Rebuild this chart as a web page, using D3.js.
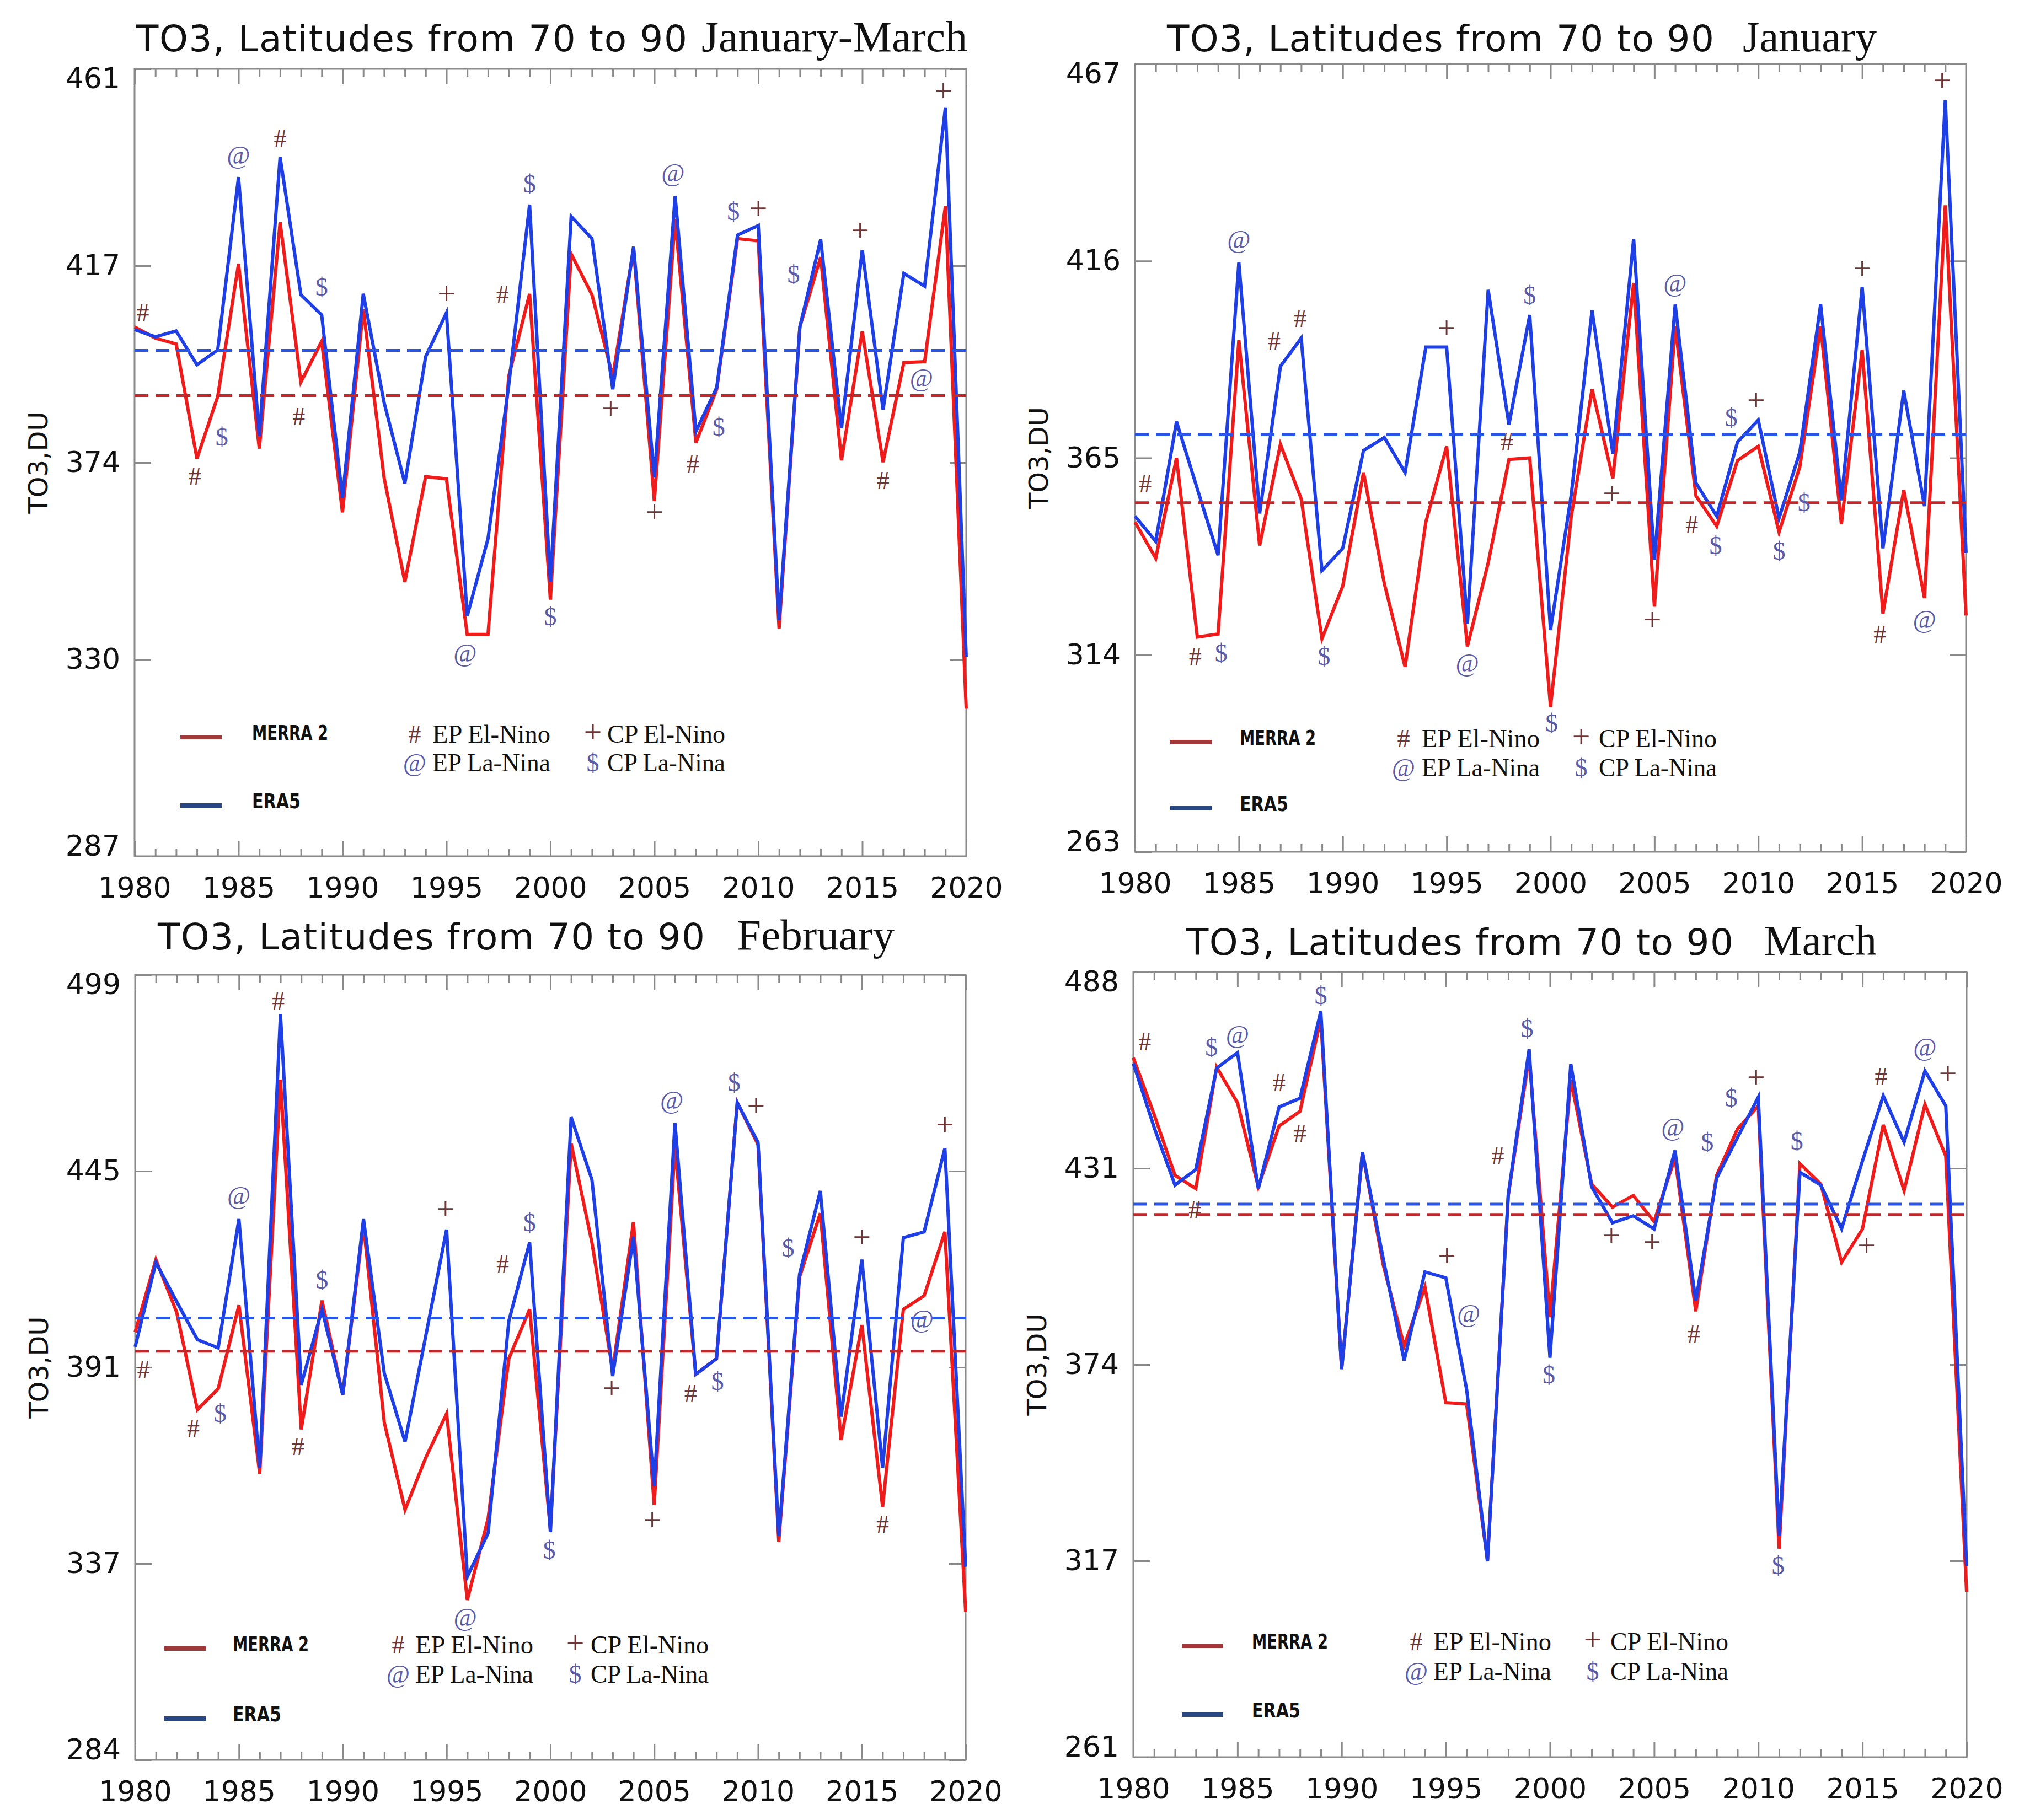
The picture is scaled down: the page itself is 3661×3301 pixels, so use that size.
<!DOCTYPE html>
<html>
<head>
<meta charset="utf-8">
<script src="https://cdn.jsdelivr.net/npm/d3@7"></script>
<style>
  body { margin: 0; background: #fff; }
  svg { display: block; }
</style>
</head>
<body>
<svg id="fig"></svg>
<script>
// ── data (DU, 1980–2020) ─────────────────────────────
const YEARS = d3.range(1980, 2021);

const MERRA_JFM = [404.0, 401.5, 400.2, 374.9, 388.6, 417.9, 377.1, 427.1, 391.8, 400.8, 363.0, 407.9, 370.7, 347.6, 370.9, 370.4, 336.0, 336.0, 393.1, 411.3, 343.7, 420.1, 411.1, 393.0, 421.3, 365.5, 427.7, 378.4, 390.2, 423.5, 423.0, 337.3, 404.0, 419.4, 374.5, 403.0, 374.1, 396.1, 396.3, 430.7, 319.6];
const ERA5_JFM  = [403.4, 401.8, 403.1, 395.6, 398.9, 437.1, 379.9, 441.5, 411.1, 406.6, 366.2, 411.3, 387.3, 369.4, 397.4, 407.1, 340.1, 357.2, 391.2, 431.0, 347.6, 428.4, 423.5, 390.2, 421.7, 370.7, 432.9, 380.9, 390.6, 424.3, 426.4, 339.2, 404.0, 423.3, 381.6, 421.0, 385.7, 415.8, 413.0, 452.5, 331.1];

const MERRA_JAN = [348.4, 339.0, 365.0, 318.6, 319.4, 395.5, 342.3, 368.5, 354.4, 318.2, 331.8, 361.2, 332.5, 310.9, 348.4, 368.0, 316.2, 337.8, 364.6, 365.0, 300.5, 349.9, 382.8, 359.7, 410.3, 326.5, 399.0, 355.2, 347.3, 364.3, 368.0, 345.8, 362.7, 399.0, 347.9, 393.0, 324.7, 356.7, 328.7, 430.4, 324.2];
const ERA5_JAN  = [349.9, 343.4, 374.4, 357.0, 339.8, 415.6, 350.6, 388.7, 396.0, 335.8, 341.6, 366.9, 370.3, 361.2, 393.7, 393.7, 322.0, 408.5, 373.6, 402.0, 320.4, 355.5, 403.2, 366.1, 421.7, 338.6, 404.7, 358.5, 349.9, 369.1, 374.8, 349.4, 366.5, 404.7, 354.0, 409.3, 341.6, 382.4, 352.5, 457.6, 340.4];

const MERRA_FEB = [401.1, 421.0, 406.6, 379.9, 385.6, 408.5, 362.4, 470.3, 374.5, 409.8, 384.0, 430.5, 376.4, 352.5, 366.8, 378.8, 327.8, 350.1, 393.9, 407.4, 347.1, 452.8, 425.7, 390.7, 431.3, 353.8, 452.0, 389.6, 393.9, 464.0, 452.5, 343.7, 416.2, 433.7, 371.6, 403.1, 353.3, 407.4, 411.1, 428.6, 324.6];
const ERA5_FEB  = [397.1, 420.2, 409.5, 399.1, 396.8, 432.1, 364.0, 488.2, 386.7, 407.4, 384.0, 432.1, 389.9, 371.1, 400.2, 429.2, 334.2, 346.1, 404.2, 425.7, 346.4, 460.0, 442.9, 389.1, 427.3, 358.9, 458.4, 389.6, 393.9, 464.0, 453.1, 345.3, 417.0, 439.8, 378.0, 421.0, 364.0, 427.0, 428.6, 451.5, 336.9];

const MERRA_MAR = [463.2, 446.8, 429.2, 425.4, 460.5, 450.2, 425.9, 443.5, 447.7, 474.4, 373.2, 435.9, 403.3, 379.9, 396.9, 363.5, 363.1, 317.9, 423.4, 463.6, 388.2, 456.9, 426.7, 420.0, 423.4, 415.9, 434.3, 389.9, 429.2, 442.6, 449.3, 321.3, 432.6, 426.7, 404.1, 413.7, 443.8, 424.8, 449.7, 434.8, 308.7];
const ERA5_MAR  = [461.6, 443.1, 426.4, 430.9, 460.2, 464.7, 425.4, 449.0, 451.5, 476.6, 373.2, 435.9, 405.0, 375.7, 401.3, 399.6, 367.3, 317.6, 423.7, 465.7, 376.5, 461.4, 425.9, 415.5, 417.5, 413.7, 436.4, 392.9, 428.4, 440.1, 451.8, 325.0, 430.1, 426.4, 413.8, 433.4, 452.2, 438.8, 459.4, 449.3, 316.3];

// 平均値（破線）: JFM, Jan, Feb, Mar
const MERRA_MEAN = [388.8, 353.4, 395.9, 417.9];
const ERA5_MEAN  = [398.8, 371.0, 405.0, 420.9];

// y 軸ラベル（下→上）
const Y_LABELS_JFM = ['287', '330', '374', '417', '461'];
const Y_LABELS_JAN = ['263', '314', '365', '416', '467'];
const Y_LABELS_FEB = ['284', '337', '391', '445', '499'];
const Y_LABELS_MAR = ['261', '317', '374', '431', '488'];

const X_LABELS = ['1980', '1985', '1990', '1995', '2000', '2005', '2010', '2015', '2020'];
const MONTHS = ['January-March', 'January', 'February', 'March'];

// ENSO 注記: [年, 記号, DU]
const MARKS_JFM = [
  [1980.4, '#', 407.2], [1982.9, '#', 370.9], [1984.2, '$', 379.6], [1985.0, '@', 441.9],
  [1987.0, '#', 445.5], [1987.9, '#', 384.1], [1989.0, '$', 412.8], [1995.0, '+', 410.8],
  [1995.9, '@', 331.9], [1997.7, '#', 411.1], [1999.0, '$', 435.5], [2000.0, '$', 339.9],
  [2002.9, '+', 385.4], [2005.0, '+', 362.6], [2005.9, '@', 438.0], [2006.85, '#', 373.6],
  [2008.1, '$', 381.8], [2008.8, '$', 429.4], [2010.0, '+', 429.7], [2011.7, '$', 415.6],
  [2014.9, '+', 424.8], [2016.0, '#', 370.0], [2017.85, '@', 392.7], [2018.9, '+', 455.6]
];
const MARKS_JAN = [
  [1980.5, '#', 358.2], [1982.9, '#', 313.6], [1984.15, '$', 314.4], [1985.0, '@', 421.4],
  [1986.7, '#', 395.2], [1987.95, '#', 401.0], [1989.1, '$', 313.6], [1995.0, '+', 398.0],
  [1996.0, '@', 311.8], [1997.9, '#', 369.1], [1999.0, '$', 407.0], [2000.05, '$', 296.3],
  [2002.95, '+', 355.2], [2004.9, '+', 322.5], [2006.0, '@', 410.2], [2006.8, '#', 347.6],
  [2007.95, '$', 342.3], [2008.7, '$', 375.4], [2009.9, '+', 379.4], [2011.0, '$', 340.8],
  [2012.2, '$', 353.4], [2015.0, '+', 413.4], [2015.85, '#', 319.2], [2018.0, '@', 323.1],
  [2018.85, '+', 462.2]
];
const MARKS_FEB = [
  [1980.4, '#', 390.7], [1982.8, '#', 374.8], [1984.1, '$', 378.8], [1985.0, '@', 438.5],
  [1986.9, '#', 491.8], [1987.85, '#', 369.7], [1989.0, '$', 415.4], [1994.95, '+', 434.2],
  [1995.9, '@', 323.0], [1997.7, '#', 419.8], [1999.0, '$', 431.0], [1999.95, '$', 341.3],
  [2002.95, '+', 385.1], [2004.9, '+', 349.0], [2005.85, '@', 464.6], [2006.75, '#', 384.3],
  [2008.05, '$', 387.5], [2008.85, '$', 469.4], [2009.9, '+', 462.4], [2011.45, '$', 424.1],
  [2015.0, '+', 426.5], [2016.0, '#', 348.5], [2017.9, '@', 404.7], [2019.0, '+', 457.3]
];
const MARKS_MAR = [
  [1980.55, '#', 467.7], [1982.95, '#', 419.2], [1983.75, '$', 466.1], [1985.0, '@', 469.8],
  [1987.0, '#', 456.0], [1988.0, '#', 441.3], [1989.0, '$', 481.1], [1995.05, '+', 405.3],
  [1996.1, '@', 389.1], [1997.5, '#', 434.8], [1998.9, '$', 471.6], [1999.95, '$', 371.5],
  [2002.95, '+', 411.2], [2004.9, '+', 409.2], [2005.9, '@', 443.1], [2006.9, '#', 383.2],
  [2007.55, '$', 438.8], [2008.7, '$', 451.5], [2009.9, '+', 456.9], [2010.95, '$', 316.3],
  [2011.85, '$', 439.0], [2015.2, '+', 408.3], [2015.9, '#', 457.7], [2018.0, '@', 466.1],
  [2019.1, '+', 458.0]
];

const LEGEND_SYMS = [
  { sym: '#', text: 'EP El-Nino' }, { sym: '+', text: 'CP El-Nino' },
  { sym: '@', text: 'EP La-Nina' }, { sym: '$', text: 'CP La-Nina' }
];

// ── styles ───────────────────────────────────────────
const W = 3661, H = 3301;
const COL = {
  merra: '#f01c1c', era5: '#1f3fe6',
  merraMean: '#c0282c', era5Mean: '#2a55ea',
  merraKey: '#a3383a', era5Key: '#28467f',
  elnino: '#6e3535', lanina: '#5b5ba8',
  frame: '#8a8a8a', text: '#111'
};
const SANS = 'DejaVu Sans';
const SERIF = 'Liberation Serif';
const symColor = s => (s === '#' || s === '+') ? COL.elnino : COL.lanina;
const symSize = s => s === '+' ? 58 : 46;   // '+' は Times だと小さく見えるので拡大

// 各パネルの配置（元画像の座標）
const PANELS = [
  { merra: MERRA_JFM, era5: ERA5_JFM, yLabels: Y_LABELS_JFM, marks: MARKS_JFM, k: 0,
    box: [244, 125, 1752, 1553], titleY: 93, sans: [247, 999], serif: [1272, 482],
    leg: { lineX: 327, mY: 1337, eY: 1461, textX: 457, s1: 752, t1: 784, s2: 1075, t2: 1101, r1: 1332, r2: 1384 } },
  { merra: MERRA_JAN, era5: ERA5_JAN, yLabels: Y_LABELS_JAN, marks: MARKS_JAN, k: 1,
    box: [2058, 116, 3565, 1545], titleY: 93, sans: [2116, 992], serif: [3160, 243],
    leg: { lineX: 2122, mY: 1346, eY: 1466, textX: 2248, s1: 2545, t1: 2578, s2: 2867, t2: 2899, r1: 1340, r2: 1393 } },
  { merra: MERRA_FEB, era5: ERA5_FEB, yLabels: Y_LABELS_FEB, marks: MARKS_FEB, k: 2,
    box: [245, 1768, 1751, 3192], titleY: 1722, sans: [286, 992], serif: [1336, 286],
    leg: { lineX: 298, mY: 2990, eY: 3117, textX: 422, s1: 722, t1: 753, s2: 1043, t2: 1071, r1: 2984, r2: 3037 } },
  { merra: MERRA_MAR, era5: ERA5_MAR, yLabels: Y_LABELS_MAR, marks: MARKS_MAR, k: 3,
    box: [2055, 1763, 3566, 3187], titleY: 1732, sans: [2151, 992], serif: [3198, 205],
    leg: { lineX: 2143, mY: 2985, eY: 3110, textX: 2270, s1: 2568, t1: 2599, s2: 2888, t2: 2920, r1: 2978, r2: 3032 } }
];

const svg = d3.select('#fig').attr('width', W).attr('height', H)
  .attr('viewBox', `0 0 ${W} ${H}`);
svg.append('rect').attr('width', W).attr('height', H).attr('fill', '#fff');

function drawPanel(p) {
  const [x0, y0, x1, y1] = p.box;
  const g = svg.append('g');
  const lo = +p.yLabels[0], hi = +p.yLabels[p.yLabels.length - 1];
  const x = d3.scaleLinear().domain([1980, 2020]).range([x0, x1]);
  const y = d3.scaleLinear().domain([lo, hi]).range([y1, y0]);
  const yTicks = d3.range(5).map(i => lo + i * (hi - lo) / 4);

  // title
  g.append('text').attr('x', p.sans[0]).attr('y', p.titleY)
    .attr('font-family', SANS).attr('font-size', 66).attr('fill', COL.text)
    .attr('textLength', p.sans[1]).attr('lengthAdjust', 'spacing')
    .text('TO3, Latitudes from 70 to 90');
  g.append('text').attr('x', p.serif[0]).attr('y', p.titleY)
    .attr('font-family', SERIF).attr('font-size', 79).attr('fill', COL.text)
    .attr('textLength', p.serif[1]).attr('lengthAdjust', 'spacingAndGlyphs')
    .text(MONTHS[p.k]);

  // y axis title
  g.append('text')
    .attr('transform', `translate(${x0 - 158},${(y0 + y1) / 2}) rotate(-90)`)
    .attr('text-anchor', 'middle').attr('font-family', SANS).attr('font-size', 48)
    .attr('fill', COL.text).text('TO3,DU');

  // axes (ticks inward on all sides)
  const styleAxis = sel => {
    sel.select('.domain').remove();
    sel.selectAll('line').attr('stroke', COL.frame).attr('stroke-width', 3);
    sel.selectAll('text').attr('font-family', SANS).attr('font-size', 52).attr('fill', COL.text);
  };
  const minorYears = YEARS.filter(v => v % 5 !== 0);
  const majorYears = X_LABELS.map(Number);

  g.append('g').attr('transform', `translate(0,${y1})`)
    .call(d3.axisBottom(x).tickValues(minorYears).tickSize(-14).tickFormat(''))
    .call(styleAxis);
  g.append('g').attr('transform', `translate(0,${y1})`)
    .call(d3.axisBottom(x).tickValues(majorYears).tickSize(-28).tickPadding(38).tickFormat(d3.format('d')))
    .call(styleAxis);
  g.append('g').attr('transform', `translate(0,${y0})`)
    .call(d3.axisTop(x).tickValues(minorYears).tickSize(-14).tickFormat(''))
    .call(styleAxis);
  g.append('g').attr('transform', `translate(0,${y0})`)
    .call(d3.axisTop(x).tickValues(majorYears).tickSize(-28).tickFormat(''))
    .call(styleAxis);

  const yAx = g.append('g').attr('transform', `translate(${x0},0)`)
    .call(d3.axisLeft(y).tickValues(yTicks).tickSize(-30).tickPadding(26)
      .tickFormat((d, i) => p.yLabels[i]))
    .call(styleAxis);
  // 端のラベルは枠の内側へ少しずらす
  yAx.selectAll('.tick text').attr('y', (d, i) => i === 0 ? -18 : i === 4 ? 18 : 0);
  g.append('g').attr('transform', `translate(${x1},0)`)
    .call(d3.axisRight(y).tickValues(yTicks).tickSize(-30).tickFormat(''))
    .call(styleAxis);

  // frame
  g.append('rect').attr('x', x0).attr('y', y0).attr('width', x1 - x0).attr('height', y1 - y0)
    .attr('fill', 'none').attr('stroke', COL.frame).attr('stroke-width', 3);

  // series
  const line = d3.line().x((d, i) => x(YEARS[i])).y(d => y(d));
  g.append('path').datum(p.merra).attr('d', line)
    .attr('fill', 'none').attr('stroke', COL.merra).attr('stroke-width', 6).attr('stroke-linejoin', 'miter');
  g.append('path').datum(p.era5).attr('d', line)
    .attr('fill', 'none').attr('stroke', COL.era5).attr('stroke-width', 6).attr('stroke-linejoin', 'miter');

  // means
  [[ERA5_MEAN[p.k], COL.era5Mean], [MERRA_MEAN[p.k], COL.merraMean]].forEach(([m, c]) => {
    g.append('line').attr('x1', x0).attr('x2', x1).attr('y1', y(m)).attr('y2', y(m))
      .attr('stroke', c).attr('stroke-width', 5).attr('stroke-dasharray', '25 13');
  });

  // ENSO markers
  g.selectAll('.mk').data(p.marks).enter().append('text').attr('class', 'mk')
    .attr('x', d => x(d[0])).attr('y', d => y(d[2]) + 15)
    .attr('text-anchor', 'middle').attr('font-family', SERIF)
    .attr('font-size', d => symSize(d[1]))
    .attr('fill', d => symColor(d[1])).text(d => d[1]);

  // legend: series keys
  const L = p.leg;
  [[L.mY, COL.merraKey, 'MERRA 2', 138], [L.eY, COL.era5Key, 'ERA5', 88]].forEach(([ly, c, t, tl]) => {
    g.append('line').attr('x1', L.lineX).attr('x2', L.lineX + 75).attr('y1', ly).attr('y2', ly)
      .attr('stroke', c).attr('stroke-width', 8);
    g.append('text').attr('x', L.textX).attr('y', ly + 5)
      .attr('font-family', 'DejaVu Sans Condensed, DejaVu Sans').attr('font-weight', 'bold')
      .attr('font-size', 37).attr('fill', COL.text)
      .attr('textLength', tl).attr('lengthAdjust', 'spacingAndGlyphs').text(t);
  });

  // legend: symbol keys
  LEGEND_SYMS.forEach((s, i) => {
    const col = i % 2, row = Math.floor(i / 2);
    const sx = col ? L.s2 : L.s1, tx = col ? L.t2 : L.t1, ry = row ? L.r2 : L.r1;
    g.append('text').attr('x', sx).attr('y', ry + 15).attr('text-anchor', 'middle')
      .attr('font-family', SERIF).attr('font-size', symSize(s.sym))
      .attr('fill', symColor(s.sym)).text(s.sym);
    g.append('text').attr('x', tx).attr('y', ry + 15)
      .attr('font-family', SERIF).attr('font-size', 46).attr('fill', COL.text)
      .attr('textLength', 214).attr('lengthAdjust', 'spacingAndGlyphs').text(s.text);
  });
}

PANELS.forEach(drawPanel);
</script>
</body>
</html>
